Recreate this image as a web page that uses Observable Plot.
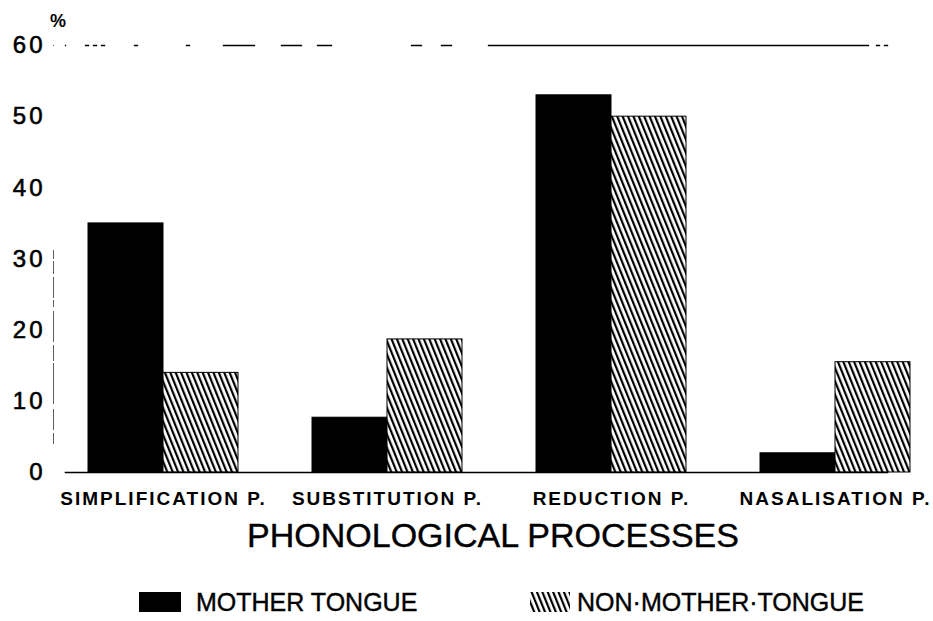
<!DOCTYPE html>
<html><head><meta charset="utf-8">
<script src="https://cdn.jsdelivr.net/npm/d3@7"></script>
<script src="https://cdn.jsdelivr.net/npm/@observablehq/plot@0.6"></script>
<style>
body{margin:0;background:#fff;}
#wrap{position:relative;width:933px;height:621px;overflow:hidden;font-family:"Liberation Sans",Arial,sans-serif;}
#overlay{position:absolute;left:0;top:0;pointer-events:none;}
.chart [aria-label="fx-axis tick label"] text{letter-spacing:2px;}
.chart [aria-label="y-axis tick label"] text{letter-spacing:3px;stroke:black;stroke-width:0.6px;}
</style></head><body>
<svg width="0" height="0" style="position:absolute">
  <defs>
    <pattern id="hatch" patternUnits="userSpaceOnUse" width="5" height="5" patternTransform="rotate(-22)">
      <rect width="5" height="5" fill="white"/>
      <rect x="0" y="0" width="2.2" height="5" fill="black"/>
    </pattern>
  </defs>
</svg>
<div id="wrap"></div>
<script>
const categories = ["SIMPLIFICATION P.", "SUBSTITUTION P.", "REDUCTION P.", "NASALISATION P."];
const seriesNames = ["MOTHER TONGUE", "NON·MOTHER·TONGUE"];
const motherTongue = [35, 7.7, 53, 2.7];
const nonMotherTongue = [14, 18.7, 50, 15.5];
const yTicks = [0, 10, 20, 30, 40, 50, 60];
const xTitle = "PHONOLOGICAL PROCESSES";
const yUnit = "%";

const data = categories.flatMap((c, i) => [
  {cat: c, series: seriesNames[0], value: motherTongue[i]},
  {cat: c, series: seriesNames[1], value: nonMotherTongue[i]}
]);

const plot = Plot.plot({
  className: "chart",
  width: 933, height: 520,
  marginTop: 45, marginBottom: 48, marginLeft: 64, marginRight: 8,
  style: {fontFamily: "Liberation Sans, Arial, sans-serif", background: "white", color: "black", overflow: "visible"},
  fx: {domain: categories, paddingInner: 0.33, paddingOuter: 0.0825, align: 0.62, label: null},
  x: {domain: seriesNames, padding: 0, axis: null},
  y: {domain: [0, 60], axis: null},
  color: {domain: seriesNames, range: ["black", "url(#hatch)"]},
  marks: [
    Plot.frame({anchor: "top", facet: "super", dx: -23, stroke: "black", strokeWidth: 1.3,
      strokeDasharray: "0,20,3,5,3,5,3,30,3,49,3,34,31,27,20,16,14,80,10,20,10,37,380,8,3,5,3,5,3,100"}),
    Plot.frame({anchor: "left", facet: "super", dx: -35, stroke: "black", strokeWidth: 0.9, strokeOpacity: 0.7,
      strokeDasharray: "0,205,8,3,12,4,20,3,6,5,30,4,15,3,40,6,20,4,10,100"}),
    Plot.barY(data, {fx: "cat", x: "series", y: "value", fill: "series", stroke: "black", strokeWidth: 1}),
    Plot.frame({anchor: "bottom", facet: "super", dx: -23, stroke: "black", strokeWidth: 1.6, strokeDasharray: "836,4,5,4,5,4,5,100"}),
    Plot.axisY({ticks: yTicks, tickSize: 0, tickPadding: 43, fontSize: 24, label: null, tickFormat: d => String(d)}),
    Plot.axisFx({anchor: "bottom", tickSize: 0, tickPadding: 19, fontSize: 19, fontWeight: "bold", label: null})
  ]
});
const wrap = document.getElementById("wrap");
wrap.appendChild(plot);

// overlay: unit label, x title, legend
const ov = d3.select(wrap).append("svg").attr("id", "overlay").attr("width", 933).attr("height", 621)
  .style("font-family", "Liberation Sans, Arial, sans-serif");
ov.append("text").attr("x", 50).attr("y", 27).attr("font-size", 18).attr("font-weight", "bold").text(yUnit);
ov.append("text").attr("x", 493).attr("y", 547).attr("text-anchor", "middle").attr("font-size", 34)
  .attr("stroke", "black").attr("stroke-width", 0.4).text(xTitle);
const lg = ov.append("g");
lg.append("rect").attr("x", 139).attr("y", 592).attr("width", 42).attr("height", 20).attr("fill", "black");
lg.append("text").attr("x", 196).attr("y", 611).attr("font-size", 25).attr("stroke", "black").attr("stroke-width", 0.4).text(seriesNames[0]);
lg.append("rect").attr("x", 530).attr("y", 592).attr("width", 40).attr("height", 20).attr("fill", "url(#hatch)");
lg.append("text").attr("x", 577).attr("y", 611).attr("font-size", 25).attr("stroke", "black").attr("stroke-width", 0.4).text(seriesNames[1]);
</script>
</body></html>
